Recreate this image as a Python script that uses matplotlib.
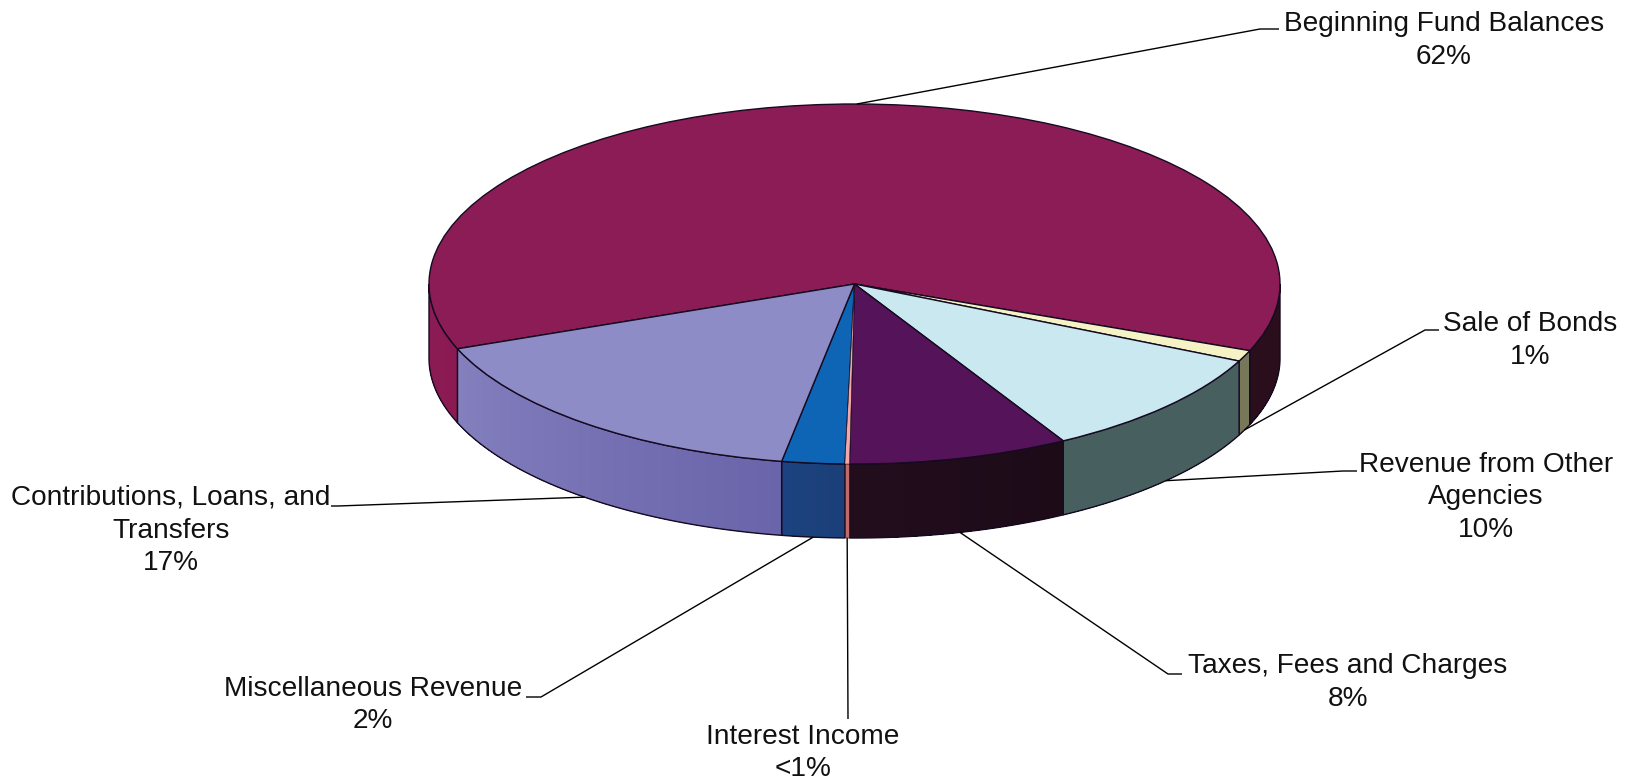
import numpy as np
import matplotlib
matplotlib.use('Agg')
import matplotlib.pyplot as plt
from matplotlib.colors import to_rgb
from matplotlib.patches import Polygon, Wedge
from matplotlib.transforms import Affine2D

plt.rcParams['font.family'] = ['Liberation Sans', 'DejaVu Sans']

# Slices, clockwise from the contributions/beginning balance boundary.
names = ['Beginning Fund Balances', 'Sale of Bonds', 'Revenue from Other\nAgencies',
         'Taxes, Fees and Charges', 'Interest Income', 'Miscellaneous Revenue',
         'Contributions, Loans, and\nTransfers']
shares = [61.9, 1.0, 9.8, 8.35, 0.17, 2.38, 16.4]
pct_labels = ['62%', '1%', '10%', '8%', '<1%', '2%', '17%']
top_colors = ['#8c1c56', '#f5f2c5', '#cae8ef', '#55145a', '#f0a8a8', '#0f65b5', '#8d8cc6']
# One (start, end) colour pair for every visible piece of a slice's wall.
side_colors = [[('#8b1a52', '#8b1c55'), ('#2a0e1c', '#2a0e1c')],
               [('#77775a', '#77775a')],
               [('#47605f', '#47605f')],
               [('#1d0b18', '#220d1c')],
               [('#c06a6a', '#c06a6a')],
               [('#1b3f78', '#1c437f')],
               [('#6a64aa', '#8480be')]]

# Pixel layout of the pie and its labels.
cx, cy, rx, ry = 854.5, 284, 425.5, 180
depth = 74
start_angle = 158.9
label_pos = [(1444, 24), (1530, 324), (1486, 465), (1348, 666), (803, 737), (373, 689), (171, 498)]
elbows = [[(1260, 29), (1279, 29)], [(1425, 330), (1439, 330)], [(1343, 471), (1357, 471)],
          [(1168, 674), (1182, 674)], [(848, 719)], [(541, 697), (526, 697)],
          [(338, 506), (331, 506)]]

fig = plt.figure(figsize=(16.33, 7.81), dpi=100)
ax = fig.add_axes([0, 0, 1, 1])
ax.set_xlim(0, 1633)
ax.set_ylim(781, 0)
ax.axis('off')

edges = start_angle + 3.6 * np.concatenate([[0], np.cumsum(shares)])
outline = '#150a20'


def rim(t):
    return cx + rx * np.cos(np.radians(t)), cy + ry * np.sin(np.radians(t))


def wall(t0, t1):
    t = np.linspace(t0, t1, max(int(t1 - t0) * 3, 2))
    x, y = rim(t)
    return np.column_stack([np.r_[x, x[::-1]], np.r_[y, y[::-1] + depth]])


# Walls first, only the front half of the disc shows.
for i in range(len(shares)):
    pieces = []
    for k in (0, -360):
        t0, t1 = max(edges[i] + k, 0), min(edges[i + 1] + k, 180)
        if t1 > t0:
            pieces.append((t0, t1))
    for (t0, t1), (c0, c1) in zip(pieces, side_colors[i]):
        steps = max(int((t1 - t0) * 2), 1)
        cuts = np.linspace(t0, t1, steps + 1)
        # Each strip runs on to the far end, so no seams show between them.
        for j in range(steps):
            mix = j / max(steps - 1, 1)
            col = (1 - mix) * np.array(to_rgb(c0)) + mix * np.array(to_rgb(c1))
            ax.add_patch(Polygon(wall(cuts[j], t1), facecolor=col, edgecolor='none'))
        ax.add_patch(Polygon(wall(t0, t1), fill=False, edgecolor=outline,
                             lw=0.4 if shares[i] < 0.5 else 1.0))

# Top face.
squash = Affine2D().scale(rx, ry).translate(cx, cy) + ax.transData
for i in range(len(shares)):
    ax.add_patch(Wedge((0, 0), 1, edges[i], edges[i + 1], facecolor=top_colors[i],
                       edgecolor=outline, lw=0.3 if shares[i] < 0.5 else 1.0,
                       transform=squash, zorder=2 + (shares[i] < 0.5)))

# Leader lines and labels.
for i in range(len(shares)):
    mid = (edges[i] + edges[i + 1]) / 2
    x0, y0 = rim(mid)
    if np.sin(np.radians(mid)) > 0:
        y0 = y0 + depth
    xs = [x0] + [p[0] for p in elbows[i]]
    ys = [y0] + [p[1] for p in elbows[i]]
    ax.plot(xs, ys, color='black', lw=1.0, solid_capstyle='butt')
    lines = (names[i] + '\n' + pct_labels[i]).split('\n')
    for n, line in enumerate(lines):
        ax.text(label_pos[i][0], label_pos[i][1] + n * 32.5, line, ha='center', va='center',
                fontsize=20.15, color='#111111')

fig.savefig('out.png', dpi=100)
